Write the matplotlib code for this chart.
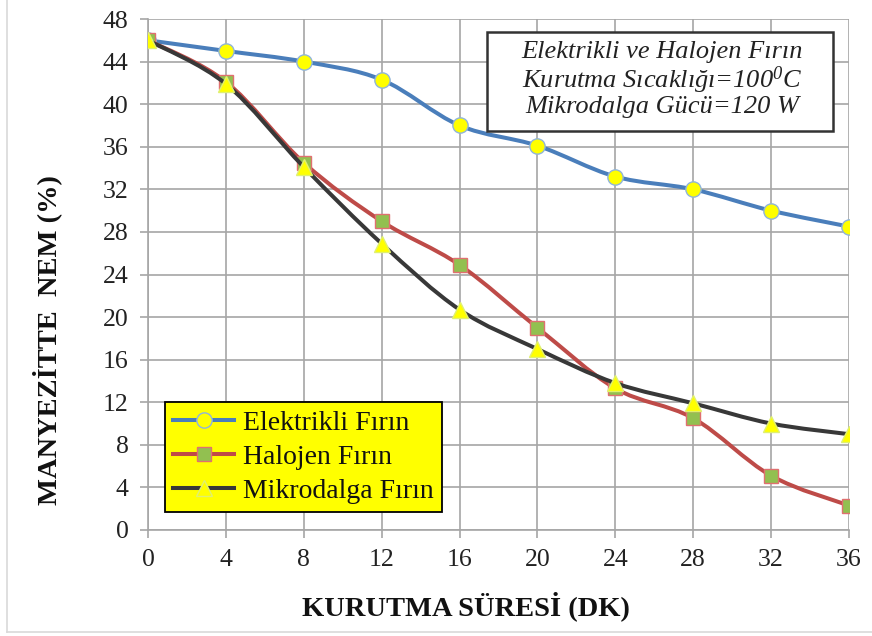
import numpy as np
import matplotlib
matplotlib.use("Agg")
import matplotlib.pyplot as plt
from matplotlib.path import Path
from matplotlib.patches import PathPatch, Rectangle
from matplotlib.lines import Line2D
from matplotlib.font_manager import FontProperties

SERIF = ['Liberation Serif', 'DejaVu Serif']
plt.rcParams['font.family'] = SERIF
plt.rcParams['mathtext.fontset'] = 'custom'
plt.rcParams['mathtext.rm'] = 'Liberation Serif:italic'
plt.rcParams['mathtext.it'] = 'Liberation Serif:italic'

# Drying time (min) and moisture content (%)
sure = [0, 4, 8, 12, 16, 20, 24, 28, 32, 36]
elektrikli = [46.0, 45.0, 44.0, 42.3, 38.0, 36.1, 33.2, 32.0, 30.0, 28.5]
halojen = [46.0, 42.1, 34.5, 29.0, 24.9, 19.0, 13.3, 10.5, 5.1, 2.3]
mikrodalga = [46.0, 41.9, 34.1, 26.9, 20.7, 17.0, 13.8, 11.9, 10.0, 9.0]

seri_adlari = ['Elektrikli Fırın', 'Halojen Fırın', 'Mikrodalga Fırın']
x_ticks = [0, 4, 8, 12, 16, 20, 24, 28, 32, 36]
y_ticks = [0, 4, 8, 12, 16, 20, 24, 28, 32, 36, 40, 44, 48]

W, H = 872, 636
fig = plt.figure(figsize=(W / 100, H / 100), dpi=100)
ax = fig.add_axes([148 / W, 1 - 530 / H, (849 - 148) / W, (530 - 19) / H])

grid_c = '#a6a6a6'


def fx(px):
    return px / W


def fy(py):
    return 1 - py / H


def smooth_path(x, y):
    """Excel-style smoothed curve through the points (cubic Bezier segments)."""
    x = np.asarray(x, float)
    y = np.asarray(y, float)
    n = len(x)
    verts = [(x[0], y[0])]
    codes = [Path.MOVETO]
    for i in range(n - 1):
        p0 = np.array([x[max(i - 1, 0)], y[max(i - 1, 0)]])
        p1 = np.array([x[i], y[i]])
        p2 = np.array([x[i + 1], y[i + 1]])
        p3 = np.array([x[min(i + 2, n - 1)], y[min(i + 2, n - 1)]])
        c1 = p1 + (p2 - p0) / 6.0
        c2 = p2 - (p3 - p1) / 6.0
        verts += [tuple(c1), tuple(c2), tuple(p2)]
        codes += [Path.CURVE4] * 3
    return Path(verts, codes)


styles = [
    dict(series=elektrikli, color='#4a7ebb', marker='o', ms=11, mfc='#ffff00', mec='#8fb4dc'),
    dict(series=halojen, color='#be4b48', marker='s', ms=10.5, mfc='#92c050', mec='#e07070'),
    dict(series=mikrodalga, color='#383838', marker='^', ms=12, mfc='#ffff00', mec='#e0f070'),
]

handles = []
for k, st in enumerate(styles):
    patch = PathPatch(smooth_path(sure, st['series']), fill=False,
                      edgecolor=st['color'], lw=2.9, capstyle='round',
                      joinstyle='round', zorder=3 + k)
    ax.add_patch(patch)
    ax.plot(sure, st['series'], ls='none', marker=st['marker'], ms=st['ms'],
            mfc=st['mfc'], mec=st['mec'], mew=1.0, zorder=3.5 + k)
    handles.append(Line2D([], [], color=st['color'], lw=2.9, marker=st['marker'],
                          ms=st['ms'], mfc=st['mfc'], mec=st['mec'], mew=1.0))

ax.set_xlim(0, 36)
ax.set_ylim(0, 48)
ax.set_xticks(x_ticks)
ax.set_yticks(y_ticks)
ax.grid(True, color=grid_c, lw=1.2)
ax.set_axisbelow(True)
for s in ['top', 'right']:
    ax.spines[s].set_visible(False)
for s in ['left', 'bottom']:
    ax.spines[s].set_color(grid_c)
    ax.spines[s].set_linewidth(1.2)
ax.tick_params(axis='both', direction='out', length=6, width=1.2, color=grid_c,
               labelsize=18.5, labelcolor='#222222')
ax.tick_params(axis='x', pad=8)
ax.tick_params(axis='y', pad=8)
for lab in ax.get_xticklabels() + ax.get_yticklabels():
    lab.set_fontfamily(SERIF)

# axis titles
fig.text(fx(466), fy(606), 'KURUTMA SÜRESİ (DK)', ha='center', va='center',
         fontsize=20.5, fontweight='bold', family=SERIF, color='#111111')
fig.text(fx(47), fy(340), 'MANYEZİTTE  NEM (%)', ha='center', va='center',
         rotation=90, fontsize=20.5, fontweight='bold', family=SERIF, color='#111111')

# legend
leg_prop = FontProperties(family=SERIF, size=20)
leg = ax.legend(handles, seri_adlari, loc='lower left',
                bbox_to_anchor=(fx(165), fy(512)), bbox_transform=fig.transFigure,
                prop=leg_prop, frameon=True, fancybox=False, facecolor='#ffff00',
                edgecolor='#000000', framealpha=1, handlelength=2.2,
                handletextpad=0.3, labelspacing=0.3, borderpad=0.3,
                borderaxespad=0)
leg.get_frame().set_linewidth(1.3)
for t in leg.get_texts():
    t.set_color('#111111')

# condition box
fig.add_artist(Rectangle((fx(487), fy(131)), fx(833) - fx(487), fy(32) - fy(131),
                         transform=fig.transFigure, facecolor='white',
                         edgecolor='#333333', linewidth=1.8, zorder=9))
box_lines = ['Elektrikli ve Halojen Fırın',
             'Kurutma Sıcaklığı=100$^0$C',
             'Mikrodalga Gücü=120 W']
for txt, py in zip(box_lines, [52, 80, 107]):
    fig.text(fx(662), fy(py), txt, ha='center', va='center', fontsize=19,
             style='italic', family=SERIF, color='#222222', zorder=10)

# outer frame lines
fig.add_artist(Line2D([fx(7), fx(7)], [fy(632), 1], color='#d9d9d9', lw=1.2))
fig.add_artist(Line2D([fx(7), 1], [fy(632), fy(632)], color='#d9d9d9', lw=1.2))

fig.savefig('out.png', dpi=100)
